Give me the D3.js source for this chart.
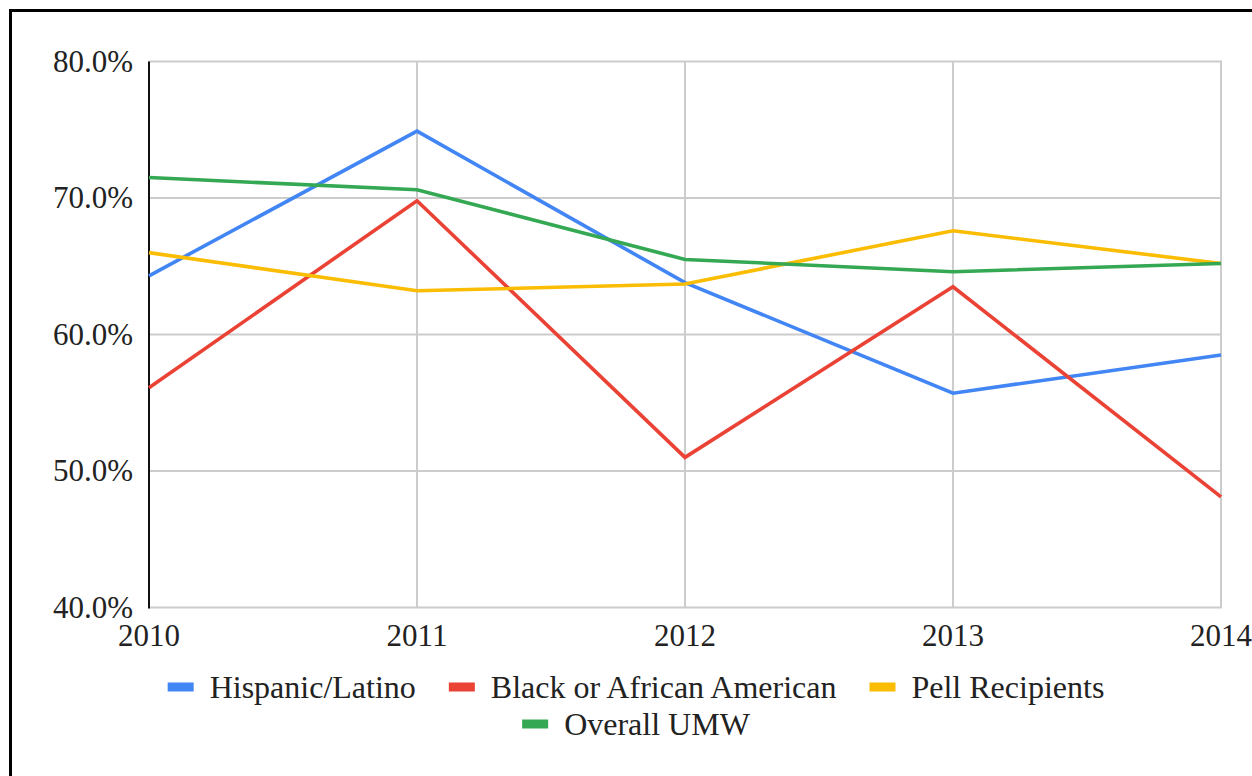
<!DOCTYPE html>
<html>
<head>
<meta charset="utf-8">
<script src="https://cdn.jsdelivr.net/npm/d3@7"></script>
<style>
  html, body { margin: 0; padding: 0; background: #fff; }
  svg { display: block; }
  text { font-family: "Liberation Serif", "DejaVu Serif", serif; fill: #222; font-variant-numeric: oldstyle-nums; }
</style>
</head>
<body>
<svg id="chart" width="1252" height="776"></svg>
<script>
// Retention rates by student group, 2010–2014
const years = [2010, 2011, 2012, 2013, 2014];
const yTicks = [0.4, 0.5, 0.6, 0.7, 0.8];

const hispanicLatino = [0.643, 0.749, 0.638, 0.557, 0.585];
const blackAfricanAmerican = [0.561, 0.698, 0.510, 0.635, 0.481];
const pellRecipients = [0.660, 0.632, 0.637, 0.676, 0.652];
const overallUMW = [0.715, 0.706, 0.655, 0.646, 0.652];

const seriesNames = ["Hispanic/Latino", "Black or African American", "Pell Recipients", "Overall UMW"];
const seriesColors = ["#4285F4", "#EA4335", "#FBBC04", "#34A853"];
const seriesValues = [hispanicLatino, blackAfricanAmerican, pellRecipients, overallUMW];

const svg = d3.select("#chart");

// outer frame
svg.append("rect")
  .attr("x", 10.5).attr("y", 10.5)
  .attr("width", 1400).attr("height", 900)
  .attr("fill", "none").attr("stroke", "#000").attr("stroke-width", 3);

const x = d3.scalePoint().domain(years).range([149, 1221]);
const y = d3.scaleLinear().domain([0.4, 0.8]).range([607.5, 61.5]);

// horizontal gridlines
svg.append("g").selectAll("line").data(yTicks).join("line")
  .attr("x1", 149).attr("x2", 1222)
  .attr("y1", d => y(d)).attr("y2", d => y(d))
  .attr("stroke", "#cccccc").attr("stroke-width", 2);

// vertical gridlines
svg.append("g").selectAll("line").data(years).join("line")
  .attr("x1", d => x(d)).attr("x2", d => x(d))
  .attr("y1", y(0.8)).attr("y2", y(0.4))
  .attr("stroke", "#cccccc").attr("stroke-width", 2);

// left axis line
svg.append("line")
  .attr("x1", 149).attr("x2", 149)
  .attr("y1", y(0.8)).attr("y2", y(0.4) + 1)
  .attr("stroke", "#111").attr("stroke-width", 2);

// y tick labels
const pct = d3.format(".1%");
svg.append("g").selectAll("text").data(yTicks).join("text")
  .attr("x", 133).attr("y", d => y(d) + 10)
  .attr("text-anchor", "end")
  .attr("font-size", 31)
  .text(d => pct(d));

// x tick labels
svg.append("g").selectAll("text").data(years).join("text")
  .attr("x", d => x(d)).attr("y", 646)
  .attr("text-anchor", "middle")
  .attr("font-size", 31)
  .text(d => d);

// series lines
const line = d3.line().x((d, i) => x(years[i])).y(d => y(d));
svg.append("g").selectAll("path").data(seriesValues).join("path")
  .attr("d", d => line(d))
  .attr("fill", "none")
  .attr("stroke", (d, i) => seriesColors[i])
  .attr("stroke-width", 3.6)
  .attr("stroke-linejoin", "miter");

// legend: first three items on row one, last on row two, each row centred
const legend = svg.append("g");
const centerX = 636;
const rows = [[0, 1, 2], [3]];
const rowY = [690, 727];
const swW = 26, swH = 9, swGap = 16, itemGap = 33;
rows.forEach((row, r) => {
  const items = row.map(i => {
    const g = legend.append("g");
    g.append("rect").attr("width", swW).attr("height", swH)
      .attr("y", rowY[r] - 3 - swH / 2).attr("fill", seriesColors[i]);
    const t = g.append("text").attr("x", swW + swGap).attr("y", rowY[r] + 8)
      .attr("font-size", 32).text(seriesNames[i]);
    return { g, w: swW + swGap + t.node().getComputedTextLength() };
  });
  const total = d3.sum(items, d => d.w) + itemGap * (items.length - 1);
  let cx = centerX - total / 2;
  items.forEach(it => {
    it.g.attr("transform", `translate(${cx},0)`);
    cx += it.w + itemGap;
  });
});
</script>
</body>
</html>
